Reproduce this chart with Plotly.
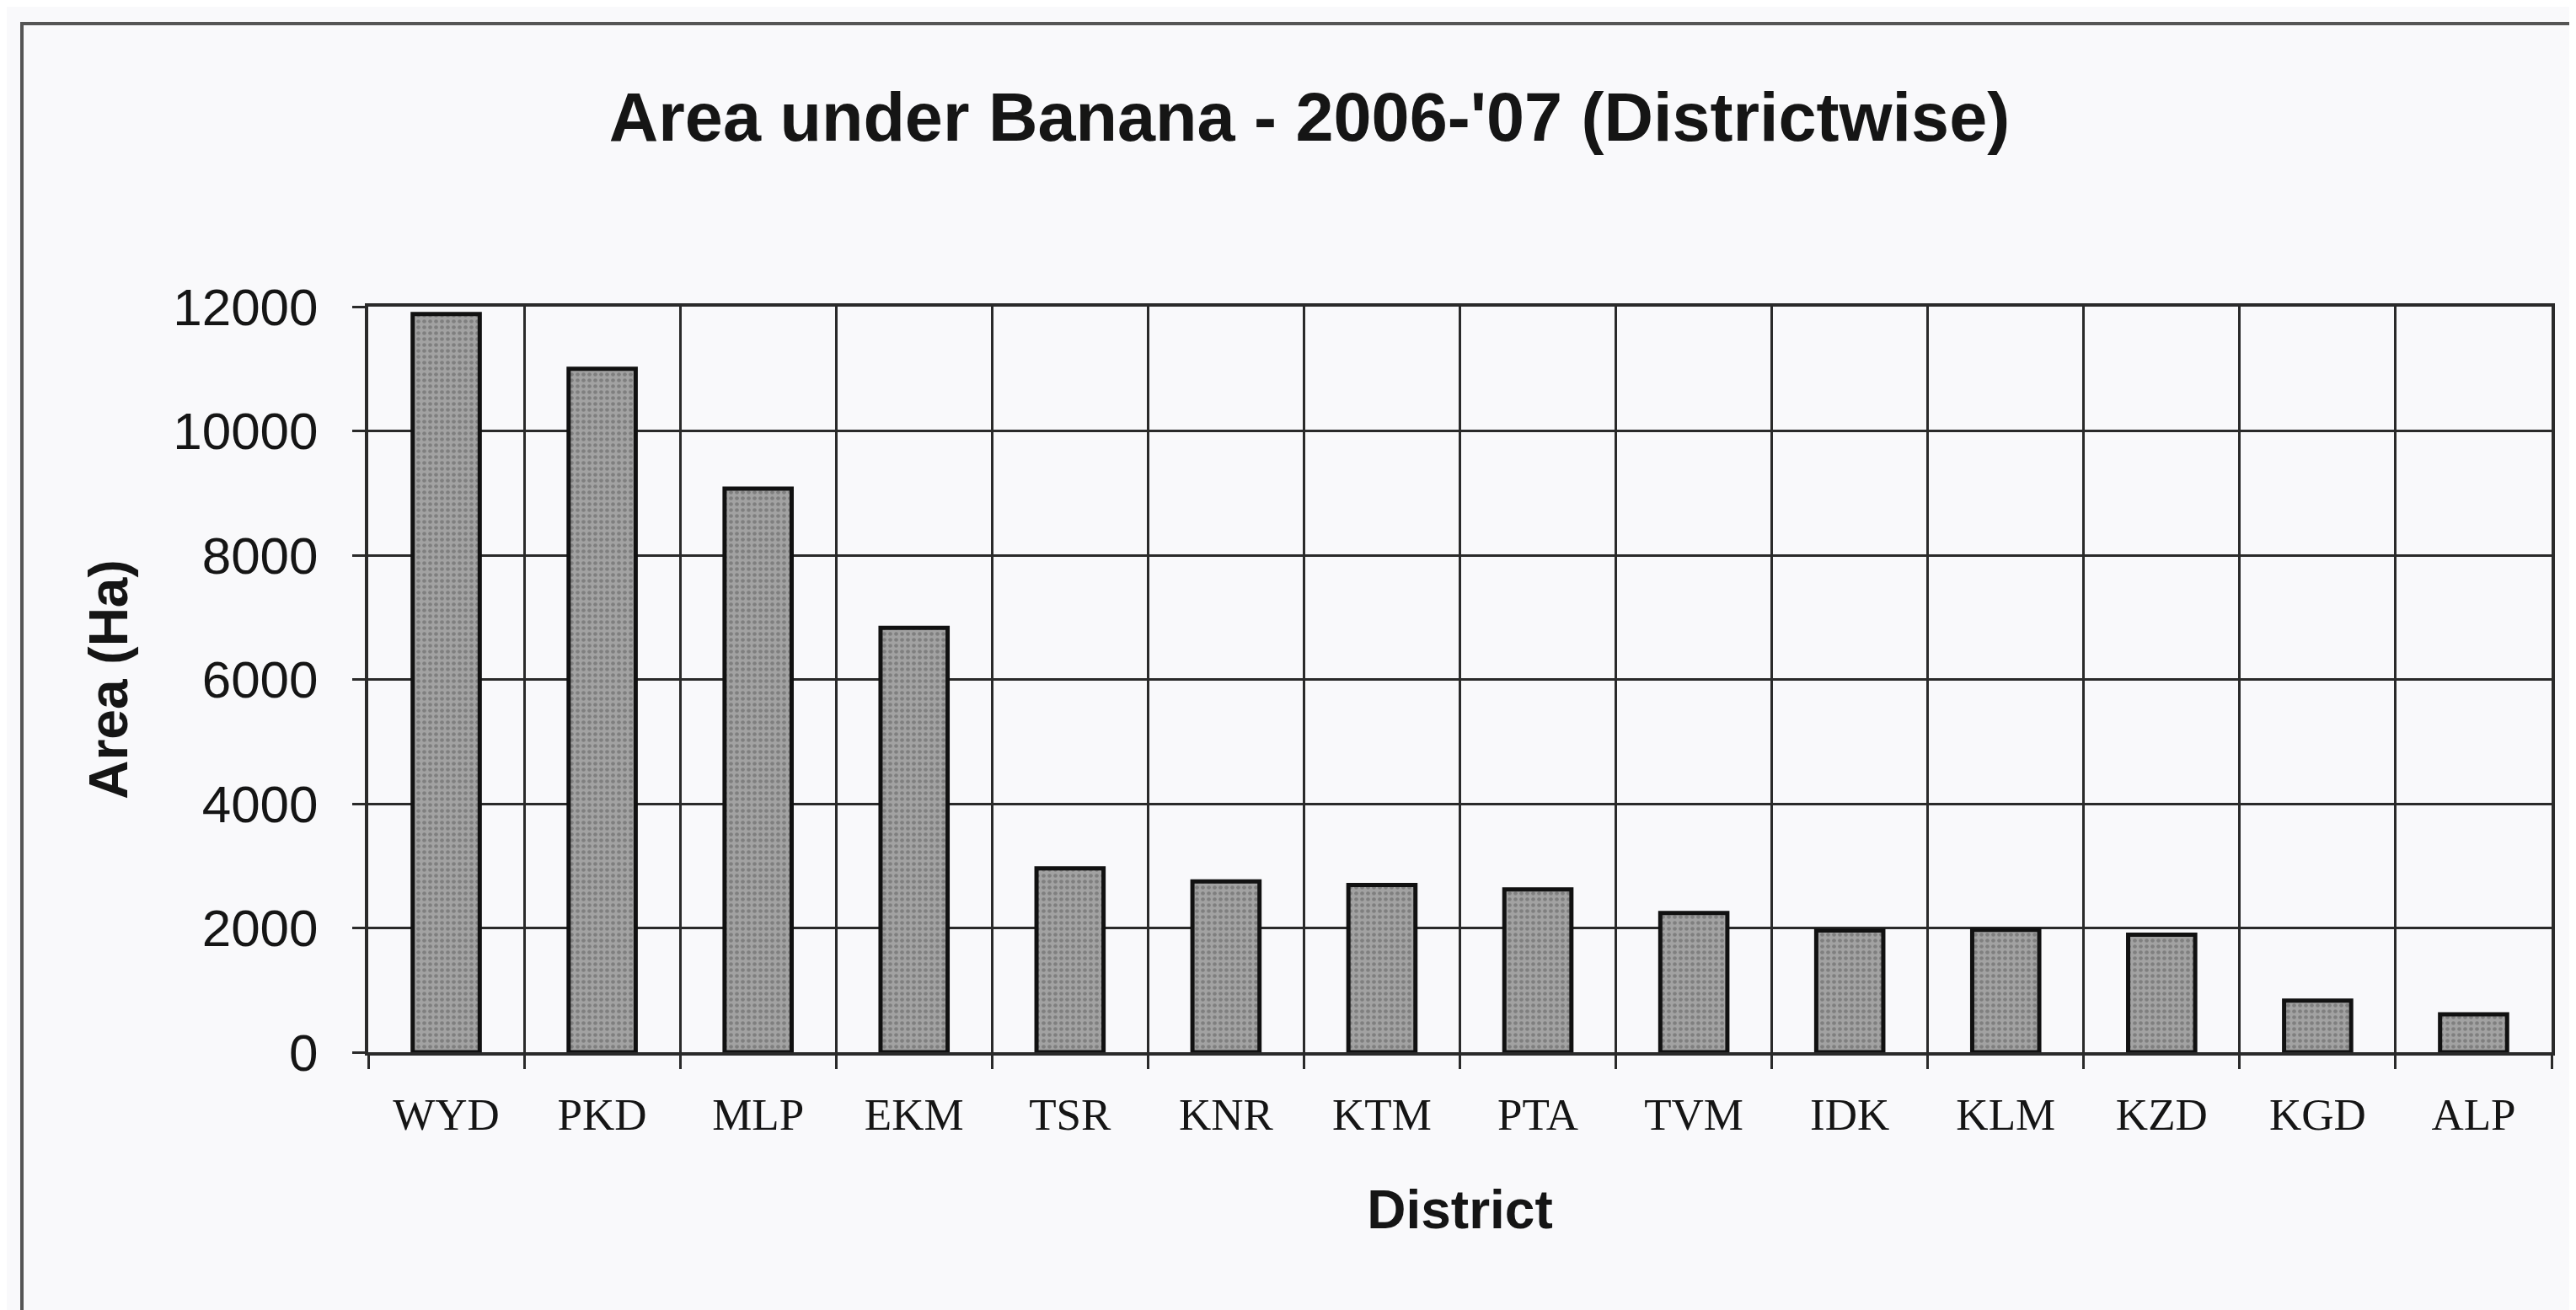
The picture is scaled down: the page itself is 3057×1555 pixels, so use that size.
import plotly.graph_objects as go

districts = ["WYD", "PKD", "MLP", "EKM", "TSR", "KNR", "KTM", "PTA", "TVM", "IDK", "KLM", "KZD", "KGD", "ALP"]
area_ha = [11880, 11000, 9070, 6830, 2960, 2750, 2690, 2620, 2240, 1960, 1970, 1890, 830, 610]
y_ticks = [0, 2000, 4000, 6000, 8000, 10000, 12000]

W, H = 3057, 1555
L, R, T, B = 429, 37, 356, 314
pw, ph = W - L - R, H - T - B

fig = go.Figure(go.Bar(
    x=districts, y=area_ha,
    marker=dict(
        color="#979797",
        line=dict(color="#111111", width=5),
        pattern=dict(shape=".", fgcolor="#5c5c5c", bgcolor="#a2a2a2", size=7, solidity=0.35),
    ),
))

def px_x(p):
    return (p - L) / pw

def px_y(p):
    return (H - B - p) / ph

fig.update_layout(
    width=W, height=H,
    margin=dict(l=L, r=R, t=T, b=B),
    paper_bgcolor="#f9f9fb",
    plot_bgcolor="#f9f9fb",
    bargap=0.57,
    showlegend=False,
    title=dict(
        text="<b>Area under Banana - 2006-'07 (Districtwise)</b>",
        x=1546 / W, xanchor="center",
        y=1 - 131 / H, yanchor="middle",
        font=dict(family="Liberation Sans, Arial", size=81, color="#151515"),
    ),
    font=dict(family="Liberation Sans, Arial", color="#151515"),
    shapes=[dict(
        type="rect", xref="paper", yref="paper",
        x0=px_x(18), x1=px_x(3120), y0=px_y(1620), y1=px_y(20),
        line=dict(color="#555555", width=4), fillcolor="rgba(0,0,0,0)", layer="below",
    )],
)

fig.update_xaxes(
    type="category",
    tickson="boundaries",
    ticks="outside", ticklen=16, tickwidth=3, tickcolor="#2a2a2a",
    showgrid=True, gridcolor="#2a2a2a", gridwidth=3,
    showline=True, linecolor="#2a2a2a", linewidth=4, mirror=True,
    tickfont=dict(family="Liberation Serif, Times New Roman", size=53, color="#151515"),
    ticklabelstandoff=24,
    title=dict(text="<b>District</b>", font=dict(family="Liberation Sans, Arial", size=64, color="#151515"), standoff=64),
)

fig.update_yaxes(
    range=[0, 12000],
    tickvals=y_ticks,
    ticktext=[str(v) for v in y_ticks],
    ticks="outside", ticklen=15, tickwidth=3, tickcolor="#2a2a2a",
    showgrid=True, gridcolor="#2a2a2a", gridwidth=3,
    zeroline=False,
    showline=True, linecolor="#2a2a2a", linewidth=4, mirror=True,
    tickfont=dict(family="Liberation Sans, Arial", size=62, color="#151515"),
    ticklabelstandoff=28,
    title=dict(text="<b>Area (Ha)</b>", font=dict(family="Liberation Sans, Arial", size=64, color="#151515"), standoff=34),
)

fig.write_html("out.html")
